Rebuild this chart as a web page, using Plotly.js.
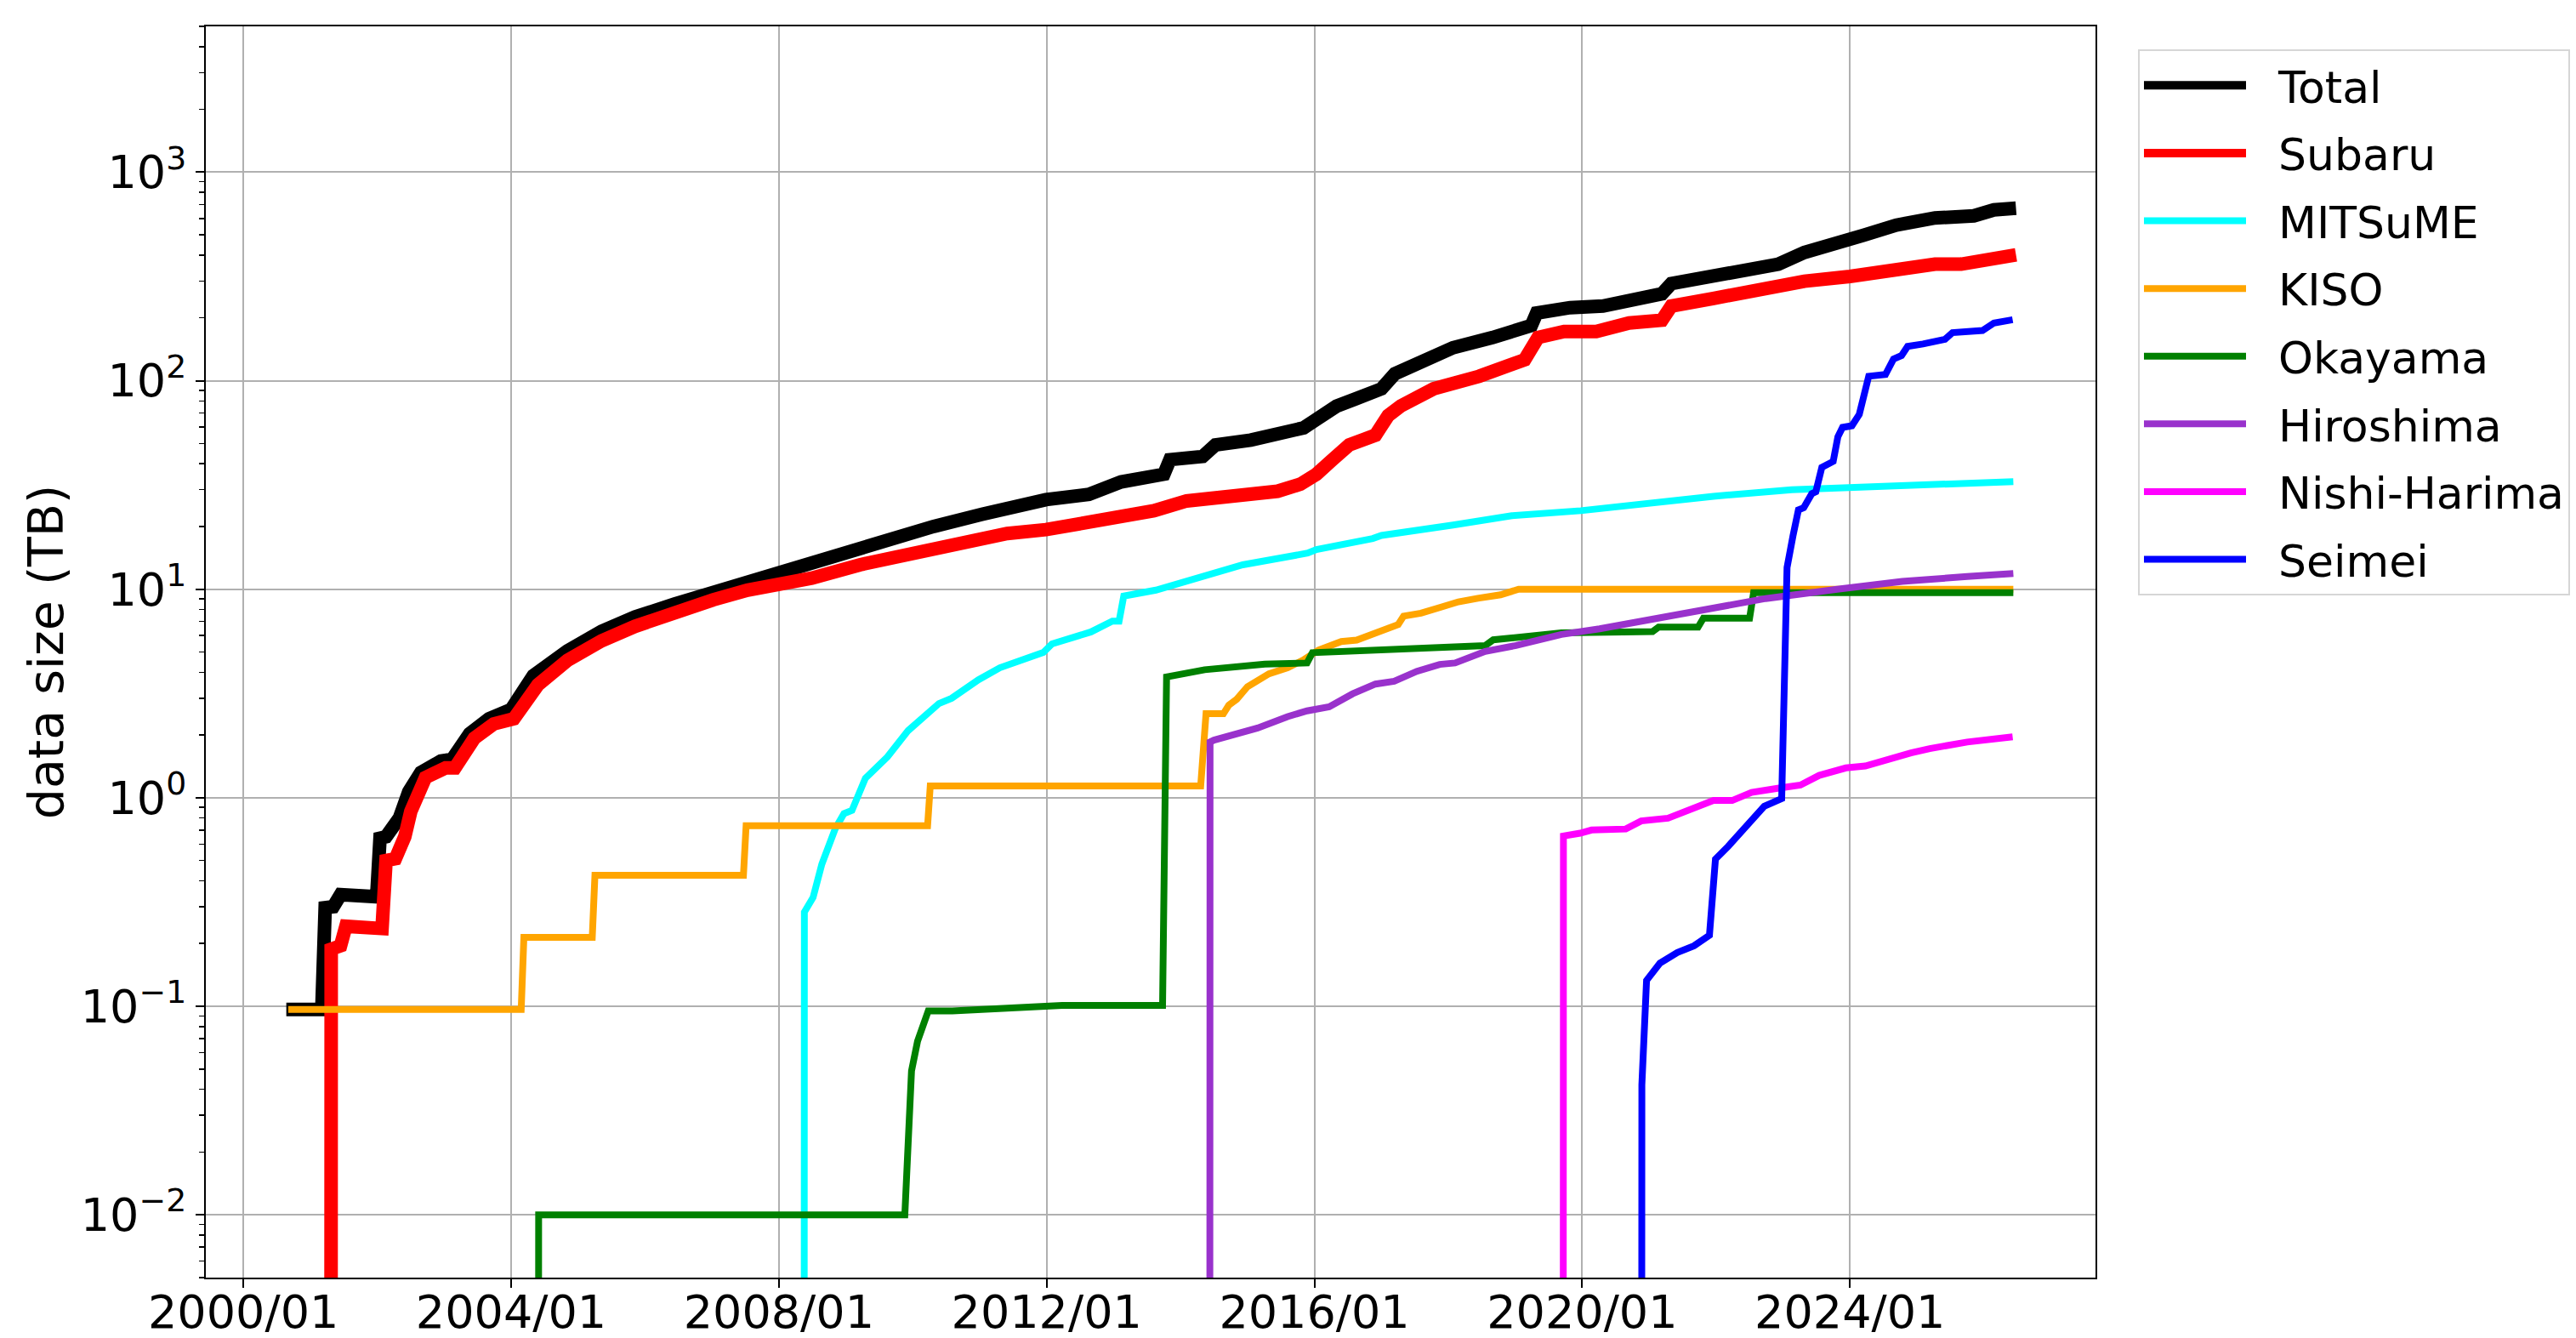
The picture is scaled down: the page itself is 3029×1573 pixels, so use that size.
<!DOCTYPE html>
<html>
<head>
<meta charset="utf-8">
<script src="https://cdn.plot.ly/plotly-3.0.1.min.js"></script>
<style>
  html, body { margin: 0; padding: 0; background: #ffffff; }
  #chart { width: 3029px; height: 1573px; }
</style>
</head>
<body>
<div id="chart"></div>
<script>
// ---- Data (decimal years, values in TB; 0 = no data yet) ----
const totalYears = [2000.64, 2001.17, 2001.22, 2001.34, 2001.45, 2001.99, 2002.04, 2002.13, 2002.33, 2002.47, 2002.65, 2002.95, 2003.12, 2003.38, 2003.67, 2004.0, 2004.33, 2004.84, 2005.35, 2005.85, 2006.44, 2007.02, 2007.53, 2007.99, 2008.49, 2009.21, 2009.95, 2010.31, 2011.04, 2011.99, 2012.63, 2013.11, 2013.75, 2013.84, 2014.33, 2014.52, 2015.05, 2015.55, 2015.84, 2016.0, 2016.33, 2016.62, 2017.0, 2017.2, 2017.69, 2018.07, 2018.66, 2019.24, 2019.32, 2019.82, 2020.31, 2020.89, 2021.19, 2021.33, 2021.96, 2022.55, 2022.93, 2023.32, 2023.81, 2024.2, 2024.69, 2025.27, 2025.85, 2026.15, 2026.48];
const totalValues = [0.0966, 0.0966, 0.297, 0.30, 0.343, 0.335, 0.64, 0.65, 0.80, 1.07, 1.32, 1.50, 1.53, 2.03, 2.39, 2.65, 3.85, 5.06, 6.28, 7.36, 8.48, 9.67, 11.0, 12.0, 13.3, 15.7, 18.5, 20.0, 22.9, 26.9, 28.5, 32.7, 35.6, 41.8, 43.3, 49.2, 51.9, 56.4, 59.4, 64.3, 75.5, 82, 91.4, 108, 130, 144, 161, 184, 211, 224, 228, 254, 261, 292, 316, 352, 362, 412, 449, 498, 557, 603, 617, 659, 672];

const subaruYears = [2001.30, 2001.31, 2001.45, 2001.53, 2002.07, 2002.13, 2002.27, 2002.41, 2002.50, 2002.72, 2003.02, 2003.16, 2003.45, 2003.74, 2004.04, 2004.40, 2004.84, 2005.35, 2005.85, 2006.44, 2007.02, 2007.53, 2007.99, 2008.49, 2009.21, 2009.95, 2010.67, 2011.41, 2011.99, 2012.63, 2013.60, 2014.09, 2014.57, 2015.45, 2015.79, 2016.03, 2016.27, 2016.52, 2016.91, 2017.10, 2017.29, 2017.78, 2018.46, 2019.14, 2019.34, 2019.73, 2020.21, 2020.70, 2021.19, 2021.33, 2021.96, 2022.64, 2023.32, 2024.0, 2024.78, 2025.27, 2025.66, 2026.15, 2026.48];
const subaruValues = [0, 0.188, 0.195, 0.242, 0.236, 0.50, 0.51, 0.65, 0.86, 1.25, 1.39, 1.39, 1.93, 2.26, 2.39, 3.48, 4.56, 5.66, 6.64, 7.78, 8.9, 9.9, 10.5, 11.3, 13.1, 14.9, 16.6, 18.5, 19.3, 21.0, 23.8, 26.5, 27.5, 29.5, 31.9, 35.6, 41.8, 49.2, 54.8, 68, 75.7, 91.4, 105, 126, 161, 172, 172, 189, 195, 228, 248, 275, 300, 316, 342, 362, 362, 391, 401];

const mitsumeYears = [2008.37, 2008.38, 2008.51, 2008.64, 2008.84, 2008.97, 2009.09, 2009.29, 2009.62, 2009.93, 2010.39, 2010.58, 2010.98, 2011.30, 2011.95, 2012.08, 2012.66, 2012.98, 2013.08, 2013.15, 2013.63, 2014.28, 2014.93, 2015.90, 2016.03, 2016.87, 2017.0, 2018.07, 2018.95, 2019.98, 2020.89, 2021.96, 2023.13, 2024.29, 2025.27, 2026.44];
const mitsumeValues = [0, 0.283, 0.333, 0.48, 0.71, 0.84, 0.87, 1.24, 1.57, 2.1, 2.83, 3.0, 3.68, 4.2, 4.97, 5.47, 6.24, 7.03, 7.03, 9.27, 9.9, 11.3, 13.1, 14.9, 15.5, 17.5, 18.1, 20.3, 22.5, 23.8, 25.8, 27.9, 30.0, 31.1, 32.0, 32.8];

const kisoYears = [2000.67, 2004.15, 2004.19, 2005.21, 2005.25, 2007.47, 2007.51, 2010.22, 2010.26, 2014.30, 2014.38, 2014.64, 2014.72, 2014.84, 2015.0, 2015.32, 2015.60, 2015.83, 2016.06, 2016.40, 2016.63, 2016.85, 2017.08, 2017.25, 2017.33, 2017.59, 2017.87, 2018.15, 2018.44, 2018.78, 2019.05, 2026.44];
const kisoValues = [0.0966, 0.0966, 0.214, 0.214, 0.425, 0.425, 0.735, 0.735, 1.14, 1.14, 2.53, 2.53, 2.78, 2.97, 3.41, 3.93, 4.2, 4.57, 5.1, 5.61, 5.7, 6.07, 6.58, 6.77, 7.43, 7.67, 8.17, 8.7, 9.05, 9.4, 10.0, 10.0];

const okayamaYears = [2004.40, 2004.41, 2009.88, 2009.98, 2010.07, 2010.23, 2010.59, 2012.23, 2013.73, 2013.79, 2014.36, 2015.26, 2015.89, 2015.97, 2018.55, 2018.67, 2019.69, 2021.05, 2021.14, 2021.73, 2021.81, 2022.50, 2022.56, 2026.44];
const okayamaValues = [0, 0.01, 0.01, 0.049, 0.068, 0.095, 0.095, 0.101, 0.101, 3.8, 4.11, 4.37, 4.43, 4.96, 5.36, 5.72, 6.17, 6.27, 6.58, 6.58, 7.26, 7.26, 9.62, 9.62];

const hiroshimaYears = [2014.43, 2014.44, 2014.50, 2014.87, 2015.15, 2015.60, 2015.89, 2016.22, 2016.57, 2016.91, 2017.19, 2017.53, 2017.87, 2018.10, 2018.55, 2019.01, 2019.69, 2020.26, 2021.11, 2021.78, 2022.74, 2023.81, 2024.78, 2025.75, 2026.44];
const hiroshimaValues = [0, 1.85, 1.89, 2.04, 2.16, 2.45, 2.61, 2.73, 3.15, 3.51, 3.62, 4.04, 4.36, 4.43, 5.03, 5.37, 6.07, 6.46, 7.21, 7.93, 9.02, 10.0, 10.9, 11.5, 11.9];

const nishiHarimaYears = [2019.71, 2019.72, 2019.97, 2020.14, 2020.65, 2020.88, 2021.28, 2021.67, 2021.96, 2022.24, 2022.53, 2022.92, 2023.26, 2023.54, 2023.94, 2024.23, 2024.45, 2024.68, 2024.91, 2025.19, 2025.75, 2026.43];
const nishiHarimaValues = [0, 0.655, 0.676, 0.70, 0.708, 0.774, 0.798, 0.89, 0.97, 0.97, 1.06, 1.11, 1.15, 1.28, 1.39, 1.42, 1.49, 1.58, 1.64, 1.72, 1.85, 1.96];

const seimeiYears = [2020.88, 2020.89, 2020.96, 2021.16, 2021.42, 2021.67, 2021.90, 2021.99, 2022.18, 2022.33, 2022.53, 2022.72, 2022.98, 2023.06, 2023.15, 2023.23, 2023.31, 2023.43, 2023.49, 2023.58, 2023.75, 2023.82, 2023.89, 2024.03, 2024.14, 2024.28, 2024.53, 2024.65, 2024.77, 2024.86, 2025.09, 2025.42, 2025.53, 2025.98, 2026.15, 2026.27, 2026.43];
const seimeiValues = [0, 0.042, 0.133, 0.161, 0.181, 0.195, 0.219, 0.508, 0.585, 0.66, 0.78, 0.91, 0.99, 12.7, 18.1, 24.0, 24.6, 28.7, 29.3, 38.4, 41, 53.8, 59.7, 60.8, 69, 105, 107, 127, 132, 146, 150, 158, 170, 174, 189, 193, 196];

const yTickValues = [0.01, 0.1, 1, 10, 100, 1000];
const yTickLabels = ['10<sup>\u22122</sup>', '10<sup>\u22121</sup>', '10<sup>0</sup>', '10<sup>1</sup>', '10<sup>2</sup>', '10<sup>3</sup>'];

// ---- helpers ----
function yearToDate(y) {
  const yr = Math.floor(y);
  const a = Date.UTC(yr, 0, 1), b = Date.UTC(yr + 1, 0, 1);
  return new Date(a + (y - yr) * (b - a)).toISOString().slice(0, 19).replace('T', ' ');
}
// matplotlib clips non-positive values on a log axis to far below the view
function logSafe(v) { return v > 0 ? v : 1e-9; }

const FONT = 'DejaVu Sans, Liberation Sans, sans-serif';
const GAP = '\u00a0\u00a0'; // gap between legend line sample and label

function series(name, years, values, color, width) {
  return {
    type: 'scatter', mode: 'lines', name: GAP + name, legendgroup: name,
    x: years.map(yearToDate), y: values.map(logSafe),
    line: { color: color, width: width, shape: 'linear' },
    hoverinfo: 'skip'
  };
}

const traces = [
  series('Total', totalYears, totalValues, '#000000', 16),
  series('Subaru', subaruYears, subaruValues, '#ff0000', 16),
  series('MITSuME', mitsumeYears, mitsumeValues, '#00ffff', 8),
  series('KISO', kisoYears, kisoValues, '#ffa500', 8),
  series('Okayama', okayamaYears, okayamaValues, '#008000', 8),
  series('Hiroshima', hiroshimaYears, hiroshimaValues, '#9932cc', 8),
  series('Nishi-Harima', nishiHarimaYears, nishiHarimaValues, '#ff00ff', 8),
  series('Seimei', seimeiYears, seimeiValues, '#0000ff', 8)
];

// minor log ticks (2..9 x 10^k) for the axis decoration
const minorTicks = [];
for (let k = -3; k <= 3; k++) for (let m = 2; m <= 9; m++) minorTicks.push(m * Math.pow(10, k));

const layout = {
  width: 3029, height: 1573,
  paper_bgcolor: '#ffffff', plot_bgcolor: '#ffffff',
  margin: { l: 242, r: 565, t: 31, b: 71, pad: 0, autoexpand: false },
  font: { family: FONT, size: 54, color: '#000000' },
  xaxis: {
    type: 'date',
    range: ['1999-06-10', '2027-09-02'],
    tick0: '2000-01-01', dtick: 'M48', tickformat: '%Y/%m',
    ticks: 'outside', ticklen: 10, tickwidth: 2, tickcolor: '#000000',
    ticklabelstandoff: -18,
    showgrid: true, gridcolor: '#b0b0b0', gridwidth: 2,
    showline: true, linecolor: '#000000', linewidth: 2, mirror: true,
    zeroline: false,
    tickfont: { family: FONT, size: 54, color: '#000000' }
  },
  yaxis: {
    type: 'log',
    range: [Math.log10(0.005), Math.log10(5000)],
    tickmode: 'array', tickvals: yTickValues, ticktext: yTickLabels,
    ticks: 'outside', ticklen: 10, tickwidth: 2, tickcolor: '#000000',
    minor: { tickmode: 'array', tickvals: minorTicks, ticks: 'outside', ticklen: 6, tickwidth: 1.5, tickcolor: '#000000', showgrid: false },
    showgrid: true, gridcolor: '#b0b0b0', gridwidth: 2,
    showline: true, linecolor: '#000000', linewidth: 2, mirror: true,
    zeroline: false,
    tickfont: { family: FONT, size: 54, color: '#000000' },
    title: { text: 'data size (TB)', font: { family: FONT, size: 57, color: '#000000' }, standoff: 2 }
  },
  showlegend: true,
  legend: {
    x: 1.0225, y: 0.9816, xanchor: 'left', yanchor: 'top',
    bgcolor: '#ffffff', bordercolor: '#d6d6d6', borderwidth: 2,
    font: { family: FONT, size: 52, color: '#000000' },
    itemwidth: 120,
    traceorder: 'grouped', tracegroupgap: 9
  }
};

Plotly.newPlot('chart', traces, layout, { staticPlot: true, displayModeBar: false });
</script>
</body>
</html>
